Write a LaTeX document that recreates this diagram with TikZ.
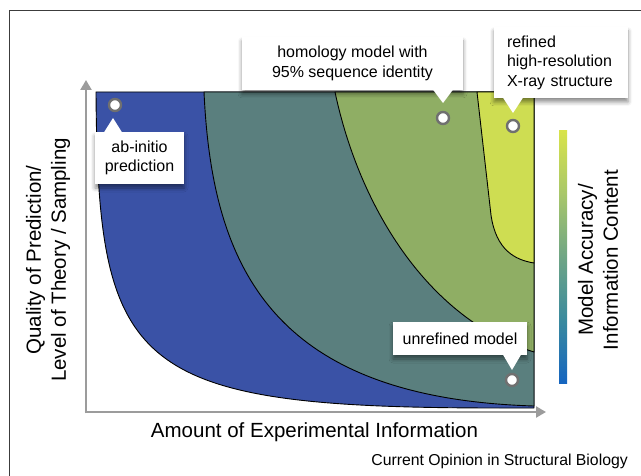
\documentclass[tikz,border=0pt]{standalone}
\usepackage{fontspec}
\setmainfont{Liberation Sans}
\usetikzlibrary{positioning,arrows.meta,calc,shadows.blur}
\definecolor{RegBlue}{HTML}{3A52A6}
\definecolor{RegTeal}{HTML}{5A7F7E}
\definecolor{RegGreen}{HTML}{8FAE64}
\definecolor{RegLime}{HTML}{CEDD52}
\definecolor{AxisGray}{HTML}{9C9C9C}
\definecolor{MarkGray}{HTML}{707070}
\definecolor{FrameGray}{HTML}{3C3C3C}
\definecolor{BarBlue}{HTML}{1565C0}
\definecolor{BarTeal}{HTML}{3A8A9E}
\definecolor{BarGreen}{HTML}{6FA585}
\definecolor{BarLime}{HTML}{A8C76A}
\definecolor{BarYellow}{HTML}{D8E34A}
\pgfdeclareverticalshading{accuracy}{20bp}{color(0bp)=(BarBlue); color(25bp)=(BarBlue);
  color(37.5bp)=(BarTeal); color(50bp)=(BarGreen); color(62.5bp)=(BarLime);
  color(75bp)=(BarYellow); color(100bp)=(BarYellow)}

\begin{document}
\begin{tikzpicture}[x=1pt, y=-1pt,
  region/.style={draw=black, line width=0.9pt, line join=round},
  axis/.style={draw=AxisGray, line width=2.6pt, -{Triangle[length=10pt,width=11pt]}},
  marker/.style={circle, fill=white, draw=MarkGray, line width=2.4pt, minimum size=12pt, inner sep=0pt},
  tag/.style={font=\fontsize{16}{19.5}\selectfont, inner sep=0pt, align=center, fill=white,
    blur shadow={shadow xshift=0pt, shadow yshift=-4pt, shadow blur radius=4pt, shadow opacity=45}},
  axtitle/.style={font=\fontsize{20.5}{25}\selectfont, align=center, inner sep=0pt}]
\useasboundingbox (0,0) rectangle (641,476);
\draw[FrameGray, line width=1.2pt] (9.5,476) -- (9.5,10.5) -- (641,10.5);

% accuracy regions, back to front
\path[region, fill=RegBlue] (96,92) -- (534,92) -- (534,408) -- (500,408) .. controls (130,408) and (98,370) .. (96,92) -- cycle;
\path[region, fill=RegTeal] (204,92) -- (534,92) -- (534,406) .. controls (270,398) and (212,265) .. (204,92) -- cycle;
\path[region, fill=RegGreen] (335,92) -- (534,92) -- (534,352) .. controls (430,320) and (360,210) .. (335,92) -- cycle;
\path[region, fill=RegLime] (477,92) -- (534,92) -- (534,263) .. controls (515,260) and (496,250) .. (491,215) -- cycle;

% axes
\coordinate (origin) at (86,412);
\coordinate (ytip) at (86,80);
\coordinate (xtip) at (546,412);
\draw[axis, shorten <=-1.3pt] (origin) -- (ytip);
\draw[axis, shorten <=-1.3pt] (origin) -- (xtip);

% colour bar
\shade[shading=accuracy] (553,131) rectangle (573,383);

% points and their callouts
\node[marker] (mk1) at (115,105) {};
\node[marker] (mk2) at (443,118) {};
\node[marker] (mk3) at (513,126) {};
\node[marker] (mk4) at (512,380) {};
\node[tag, minimum width=89pt, minimum height=52pt] (ab) at (139.5,158) {ab-initio\\prediction};
\node[tag, minimum width=221pt, minimum height=53pt] (hom) at (352.5,63.5) {homology model with\\95\% sequence identity};
\node[tag, align=left, inner xsep=13pt, text width=108pt, minimum height=71pt] (xray) at (561,62.5) {refined\\high-resolution\\X-ray structure};
\node[tag, minimum width=134pt, minimum height=33pt] (unref) at (460,338.5) {unrefined model};

\coordinate (tp1) at ($(mk1)+(-2,13)$);
\coordinate (tp2) at ($(mk2)+(0,-15)$);
\coordinate (tp3) at ($(mk3)+(0,-13)$);
\coordinate (tp4) at ($(mk4)+(0,-10)$);
\fill[white] ($(tp1 |- ab.north)+(-9,0.5)$) -- (tp1) -- ($(tp1 |- ab.north)+(9,0.5)$) -- cycle;
\fill[white] ($(tp2 |- hom.south)+(-10,-0.5)$) -- (tp2) -- ($(tp2 |- hom.south)+(10,-0.5)$) -- cycle;
\fill[white] ($(tp3 |- xray.south)+(-10,-0.5)$) -- (tp3) -- ($(tp3 |- xray.south)+(10,-0.5)$) -- cycle;
\fill[white] ($(tp4 |- unref.south)+(-9,-0.5)$) -- (tp4) -- ($(tp4 |- unref.south)+(9,-0.5)$) -- cycle;

% titles
\node[axtitle] (xlab) at (314.5,432) {Amount of Experimental Information};
\node[axtitle, rotate=90] (ylab) at (48,260) {Quality of Prediction/\\Level of Theory / Sampling};
\node[axtitle, rotate=90] (barlab) at (598,260) {Model Accuracy/\\Information Content};
\node[font=\fontsize{15.8}{18}\selectfont, anchor=east, inner sep=0pt] (src) at (628,461) {Current Opinion in Structural Biology};
\end{tikzpicture}
\end{document}
